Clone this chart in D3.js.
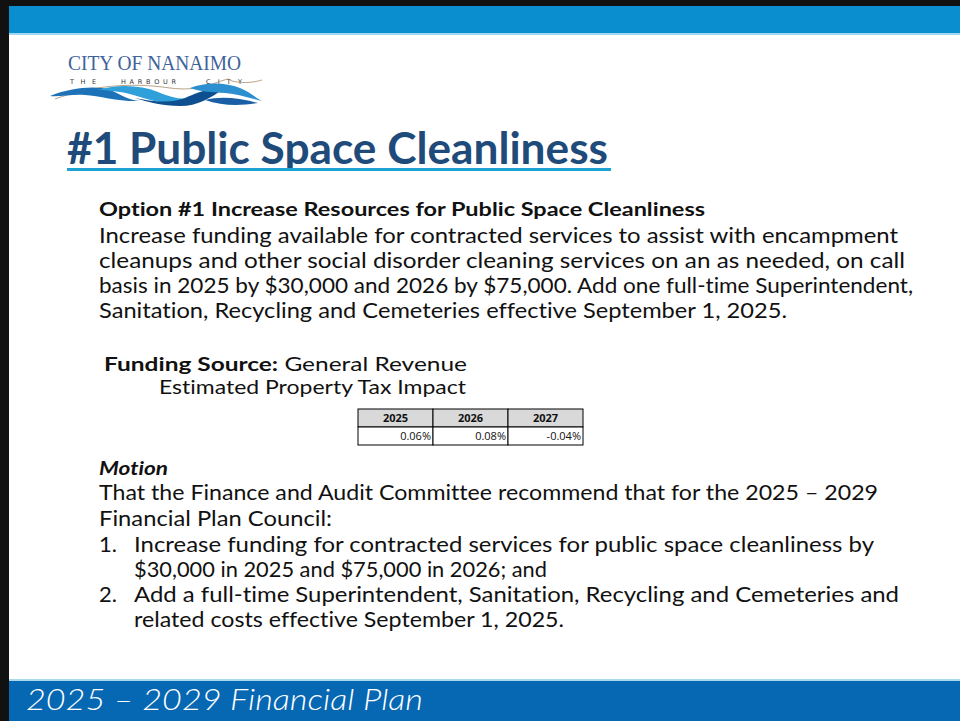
<!DOCTYPE html>
<html>
<head>
<meta charset="utf-8">
<script src="https://cdn.jsdelivr.net/npm/d3@7.9.0/dist/d3.min.js"></script>
<style>
  html, body { margin: 0; padding: 0; background: #fff; overflow: hidden; }
  svg { display: block; }
  text { font-variant-ligatures: none; }
</style>
</head>
<body>
<svg id="slide" width="960" height="721"></svg>
<script>
// table data
const years = ['2025', '2026', '2027'];
const taxImpact = [0.06, 0.08, -0.04];

// slide text
const optionTitle = 'Option #1 Increase Resources for Public Space Cleanliness';
const optionLines = [
  'Increase funding available for contracted services to assist with encampment',
  'cleanups and other social disorder cleaning services on an as needed, on call',
  'basis in 2025 by $30,000 and 2026 by $75,000. Add one full-time Superintendent,',
  'Sanitation, Recycling and Cemeteries effective September 1, 2025.'
];
const motionLines = [
  'That the Finance and Audit Committee recommend that for the 2025 \u2013 2029',
  'Financial Plan Council:'
];
const motionItems = [
  ['Increase funding for contracted services for public space cleanliness by',
   '$30,000 in 2025 and $75,000 in 2026; and'],
  ['Add a full-time Superintendent, Sanitation, Recycling and Cemeteries and',
   'related costs effective September 1, 2025.']
];
const tagline = [['THE', 70, 26], ['HARBOUR', 121, 55], ['CITY', 206, 36]];

const svg = d3.select('#slide');
const FONT = 'Lato, "Open Sans", sans-serif';

/* frame */
svg.append('rect').attr('x', 0).attr('y', 0).attr('width', 960).attr('height', 721).attr('fill', '#fff');
svg.append('rect').attr('x', 0).attr('y', 0).attr('width', 960).attr('height', 6).attr('fill', '#111');
svg.append('rect').attr('x', 0).attr('y', 0).attr('width', 9).attr('height', 721).attr('fill', '#111');
svg.append('rect').attr('x', 9).attr('y', 6).attr('width', 951).attr('height', 27).attr('fill', '#0a8ecf');
svg.append('rect').attr('x', 9).attr('y', 33).attr('width', 951).attr('height', 2).attr('fill', '#9fd8f0');
svg.append('rect').attr('x', 9).attr('y', 679).attr('width', 951).attr('height', 2).attr('fill', '#a8d8ee');
svg.append('rect').attr('x', 9).attr('y', 681).attr('width', 951).attr('height', 40).attr('fill', '#0667b3');

svg.append('text')
  .attr('x', 26).attr('y', 710)
  .attr('font-family', FONT).attr('font-style', 'italic').attr('font-weight', 300)
  .attr('font-size', 30).attr('fill', '#fff')
  .attr('textLength', 397).attr('lengthAdjust', 'spacingAndGlyphs')
  .text('2025 \u2013 2029 Financial Plan');

/* logo */
const logo = svg.append('g');
logo.append('text')
  .attr('x', 68).attr('y', 70)
  .attr('font-family', '"Liberation Serif", "DejaVu Serif", serif')
  .attr('font-size', 21).attr('fill', '#40639a')
  .attr('textLength', 173).attr('lengthAdjust', 'spacingAndGlyphs')
  .text('CITY OF NANAIMO');
tagline.forEach(([word, tx, w]) => {
  logo.append('text')
    .attr('x', tx).attr('y', 84)
    .attr('font-family', '"DejaVu Sans", sans-serif')
    .attr('font-size', 6.5).attr('fill', '#333')
    .attr('textLength', w).attr('lengthAdjust', 'spacing')
    .text(word);
});
logo.append('path')
  .attr('d', 'M55,99 C90,86 130,82 170,88 C200,92 215,82 228,79 L232,81 C245,84 255,82 262,80')
  .attr('fill', 'none').attr('stroke', '#a58a6a').attr('stroke-width', 0.8);
const waves = [
  ['M50,96 C70,88 95,85 110,90 C120,94 128,100 140,101 C120,102 100,96 85,95 C72,94 60,97 50,96 Z', '#1e73b8'],
  ['M98,90 C118,84 140,85 158,92 C170,97 180,100 192,98 C175,106 155,102 140,97 C125,92 110,90 98,90 Z', '#2fa0da'],
  ['M135,98 C150,101 170,104 185,98 C195,94 205,88 222,90 C210,98 198,106 180,106 C162,106 148,102 135,98 Z', '#0e4f90'],
  ['M190,88 C205,82 225,82 240,88 C250,92 256,98 262,101 C248,98 238,94 225,93 C212,92 200,92 190,88 Z', '#2b8fd0'],
  ['M205,100 C220,96 240,98 258,103 C240,106 222,106 205,100 Z', '#1a5fa5']
];
waves.forEach(([d, c]) => logo.append('path').attr('d', d).attr('fill', c));

/* title */
svg.append('text')
  .attr('x', 67).attr('y', 164)
  .attr('font-family', FONT).attr('font-weight', 700)
  .attr('font-size', 44).attr('fill', '#1f4b7a')
  .attr('textLength', 541).attr('lengthAdjust', 'spacingAndGlyphs')
  .text('#1 Public Space Cleanliness');
svg.append('rect').attr('x', 67).attr('y', 168).attr('width', 544).attr('height', 3).attr('fill', '#1ca3d3');

/* body text helper */
function line(x, y, str, opts) {
  const t = svg.append('text')
    .attr('x', x).attr('y', y)
    .attr('font-family', FONT)
    .attr('font-size', opts.size || 22)
    .attr('font-weight', opts.weight || 400)
    .attr('font-style', opts.style || 'normal')
    .attr('fill', opts.fill || '#111')
    .text(str);
  if (opts.width) t.attr('textLength', opts.width).attr('lengthAdjust', 'spacingAndGlyphs');
  return t;
}

line(99, 216, optionTitle, { size: 19, weight: 700, width: 606 });
const optionWidths = [799, 806, 814, 688];
optionLines.forEach((s, i) => line(99, 243 + i * 25, s, { width: optionWidths[i] }));

const fs = svg.append('text')
  .attr('x', 104).attr('y', 371)
  .attr('font-family', FONT).attr('font-size', 19).attr('fill', '#111')
  .attr('textLength', 363).attr('lengthAdjust', 'spacingAndGlyphs');
fs.append('tspan').attr('font-weight', 700).text('Funding Source:');
fs.append('tspan').text(' General Revenue');
line(159, 394, 'Estimated Property Tax Impact', { size: 19, width: 307 });

/* tax impact table */
const x = d3.scaleBand().domain(years).range([358, 583]);
const headTop = 409, headH = 18, rowH = 18;
const table = svg.append('g').attr('font-family', '"Open Sans", "Liberation Sans", sans-serif').attr('font-size', 11);
table.selectAll('rect.head')
  .data(years).join('rect')
  .attr('class', 'head')
  .attr('x', d => x(d)).attr('y', headTop)
  .attr('width', x.bandwidth()).attr('height', headH)
  .attr('fill', '#d9d9d9').attr('stroke', '#000').attr('stroke-width', 1);
table.selectAll('text.head')
  .data(years).join('text')
  .attr('class', 'head')
  .attr('x', d => x(d) + x.bandwidth() / 2).attr('y', headTop + 13)
  .attr('text-anchor', 'middle').attr('font-weight', 700).attr('fill', '#111')
  .text(d => d);
table.selectAll('rect.cell')
  .data(years).join('rect')
  .attr('class', 'cell')
  .attr('x', d => x(d)).attr('y', headTop + headH)
  .attr('width', x.bandwidth()).attr('height', rowH)
  .attr('fill', '#fff').attr('stroke', '#000').attr('stroke-width', 1);
table.selectAll('text.cell')
  .data(taxImpact).join('text')
  .attr('class', 'cell')
  .attr('x', (d, i) => x(years[i]) + x.bandwidth() - 2).attr('y', headTop + headH + 13)
  .attr('text-anchor', 'end').attr('fill', '#111')
  .text(d => d.toFixed(2) + '%');

/* motion */
line(99, 475, 'Motion', { size: 19, weight: 700, style: 'italic', width: 69 });
const motionWidths = [779, 233];
motionLines.forEach((s, i) => line(99, 500 + i * 26, s, { width: motionWidths[i] }));
const itemWidths = [[740, 413], [765, 430]];
motionItems.forEach((item, k) => {
  const y0 = 552 + k * 50;
  line(99, y0, (k + 1) + '.', {});
  item.forEach((s, j) => line(134, y0 + j * 25, s, { width: itemWidths[k][j] }));
});
</script>
</body>
</html>
